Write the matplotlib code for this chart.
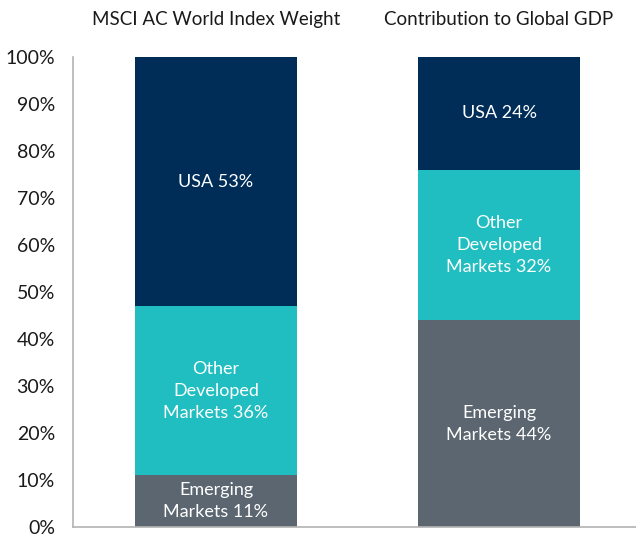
import matplotlib
matplotlib.use("Agg")
import matplotlib.pyplot as plt
from matplotlib.ticker import FuncFormatter

categories = ["MSCI AC World Index Weight", "Contribution to Global GDP"]
segments = ["Emerging Markets", "Other Developed Markets", "USA"]
values = {
    "Emerging Markets": [11, 44],
    "Other Developed Markets": [36, 32],
    "USA": [53, 24],
}
labels = {
    "Emerging Markets": ["Emerging\nMarkets 11%", "Emerging\nMarkets 44%"],
    "Other Developed Markets": ["Other\nDeveloped\nMarkets 36%", "Other\nDeveloped\nMarkets 32%"],
    "USA": ["USA 53%", "USA 24%"],
}
colors = {
    "Emerging Markets": "#5b6670",
    "Other Developed Markets": "#20bec0",
    "USA": "#002d58",
}
yticks = [0, 10, 20, 30, 40, 50, 60, 70, 80, 90, 100]

plt.rcParams["font.family"] = ["Lato", "DejaVu Sans"]

fig = plt.figure(figsize=(6.36, 5.41), dpi=100)
ax = fig.add_axes([73 / 636, (541 - 527) / 541, 1 - 73 / 636, (527 - 57) / 541])

x = list(range(len(categories)))
bottom = [0] * len(categories)
for seg in segments:
    vals = values[seg]
    ax.bar(x, vals, width=0.572, bottom=bottom, color=colors[seg], edgecolor="none", zorder=2)
    for i, v in enumerate(vals):
        ax.text(x[i], bottom[i] + v / 2, labels[seg][i], ha="center", va="center",
                color="white", fontsize=13, linespacing=1.45, zorder=3)
    bottom = [b + v for b, v in zip(bottom, vals)]

for i, c in enumerate(categories):
    ax.text(x[i], 108, c, ha="center", va="center", fontsize=13.5, color="#1a1a1a", clip_on=False)

ax.set_xlim(-0.505, 1.484)
ax.set_ylim(0, 100)
ax.set_yticks(yticks)
ax.yaxis.set_major_formatter(FuncFormatter(lambda v, p: f"{int(v)}%"))
ax.tick_params(axis="y", length=0, pad=13, labelsize=14, labelcolor="#1a1a1a")
ax.set_xticks([])
for s in ["top", "right"]:
    ax.spines[s].set_visible(False)
for s in ["left", "bottom"]:
    ax.spines[s].set_color("#b3b3b3")
    ax.spines[s].set_linewidth(1.2)

fig.savefig("out.png", dpi=100)
